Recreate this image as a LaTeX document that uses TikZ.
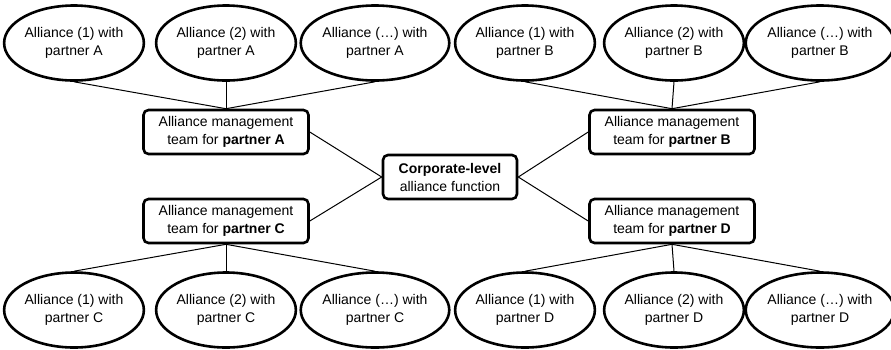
\documentclass[tikz,border=0pt]{standalone}
\usepackage{fontspec}
\setmainfont{Liberation Sans}
\usetikzlibrary{shapes.geometric}
\begin{document}
\begin{tikzpicture}[x=1pt,y=-1pt,
        alliance/.style={draw,ellipse,line width=2.6pt,minimum width=139pt,minimum height=75pt,inner sep=0pt,align=center,font=\fontsize{14}{18}\selectfont},
        team/.style={draw,rounded corners=5pt,line width=2.6pt,minimum width=165pt,minimum height=44pt,inner sep=1pt,align=center,font=\fontsize{14}{18}\selectfont},
        link/.style={line width=1pt}]
            \useasboundingbox (0,0) rectangle (891,349);
            \node [team,minimum width=134pt] (corp) at (450,177) {\textbf{Corporate-level}\\alliance function};
            \node [team] (teamA) at (226,132) {Alliance management\\team for \textbf{partner A}};
            \node [team] (teamB) at (672,132) {Alliance management\\team for \textbf{partner B}};
            \node [team] (teamC) at (226,221) {Alliance management\\team for \textbf{partner C}};
            \node [team] (teamD) at (672,221) {Alliance management\\team for \textbf{partner D}};
            \foreach \p/\xa/\xb/\xc/\y in {A/74/226/375/43,B/525/674/820/43,C/74/226/375/310,D/525/674/820/310}
                {\node [alliance] (\p1) at (\xa,\y) {Alliance (1) with\\partner \p};
                \node [alliance] (\p2) at (\xb,\y) {Alliance (2) with\\partner \p};
                \node [alliance] (\p3) at (\xc,\y) {Alliance (\dots) with\\partner \p};}
            \foreach \p in {A,B}
                \foreach \i in {1,2,3}
                    \draw [link] (\p\i.south) -- (team\p.north);
            \foreach \p in {C,D}
                \foreach \i in {1,2,3}
                    \draw [link] (\p\i.north) -- (team\p.south);
            \draw [link] (corp.west) -- (teamA.east);
            \draw [link] (corp.west) -- (teamC.east);
            \draw [link] (corp.east) -- (teamB.west);
            \draw [link] (corp.east) -- (teamD.west);
        \end{tikzpicture}
\end{document}
